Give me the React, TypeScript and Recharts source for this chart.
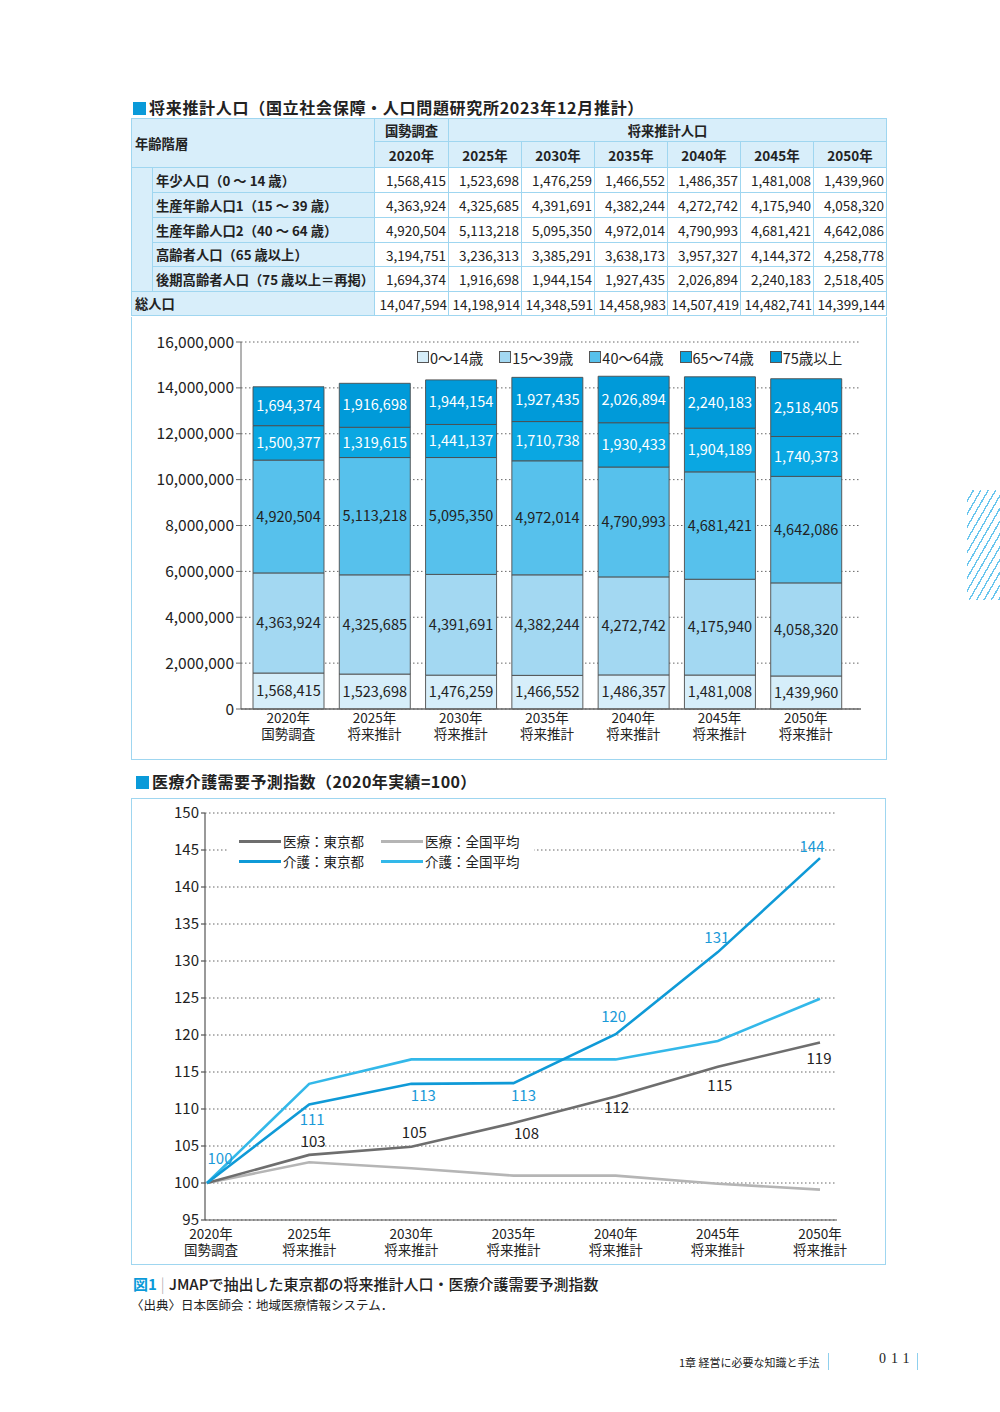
import React from "react";
import {
  BarChart,
  Bar,
  LineChart,
  Line,
  XAxis,
  YAxis,
  CartesianGrid,
  Legend,
  LabelList,
} from "recharts";

const FONT = '"Noto Sans CJK JP", "Noto Sans", sans-serif';

// 将来推計人口
const years = ["2020年", "2025年", "2030年", "2035年", "2040年", "2045年", "2050年"];
const yearNotes = ["国勢調査", "将来推計", "将来推計", "将来推計", "将来推計", "将来推計", "将来推計"];
const age0to14 = [1568415, 1523698, 1476259, 1466552, 1486357, 1481008, 1439960];
const age15to39 = [4363924, 4325685, 4391691, 4382244, 4272742, 4175940, 4058320];
const age40to64 = [4920504, 5113218, 5095350, 4972014, 4790993, 4681421, 4642086];
const age65plus = [3194751, 3236313, 3385291, 3638173, 3957327, 4144372, 4258778];
const age65to74 = [1500377, 1319615, 1441137, 1710738, 1930433, 1904189, 1740373];
const age75plus = [1694374, 1916698, 1944154, 1927435, 2026894, 2240183, 2518405];
const totals = [14047594, 14198914, 14348591, 14458983, 14507419, 14482741, 14399144];

const tableRowLabels = [
  "年少人口（0 ～ 14 歳）",
  "生産年齢人口1（15 ～ 39 歳）",
  "生産年齢人口2（40 ～ 64 歳）",
  "高齢者人口（65 歳以上）",
  "後期高齢者人口（75 歳以上＝再掲）",
];
const tableRows = [age0to14, age15to39, age40to64, age65plus, age75plus];

const barTicks = [0, 2000000, 4000000, 6000000, 8000000, 10000000, 12000000, 14000000, 16000000];
const barLegendNames = ["0〜14歳", "15〜39歳", "40〜64歳", "65〜74歳", "75歳以上"];

// 医療介護需要予測指数
const medTokyo = [100, 103.8, 104.9, 108.1, 111.7, 115.7, 119.0];
const medNational = [100, 102.8, 102.0, 101.0, 101.0, 99.9, 99.1];
const careTokyo = [100, 110.6, 113.4, 113.5, 120.1, 131.2, 143.9];
const careNational = [100, 113.4, 116.7, 116.7, 116.7, 119.2, 124.9];
const medTokyoLabels = [null, "103", "105", "108", "112", "115", "119"];
const careTokyoLabels = ["100", "111", "113", "113", "120", "131", "144"];
const indexTicks = [95, 100, 105, 110, 115, 120, 125, 130, 135, 140, 145, 150];

// label placement (px from the point)
const careLabelOffsets = [[13, -26], [3, 14], [12, 11], [10, 11], [-2, -19], [-1, -16], [-8, -13]];
const medLabelOffsets = [[0, 0], [4, -14], [3, -15], [13, 9], [1, 10], [2, 18], [-1, 15]];

const BLUE = "#0a9ad9";
const segColors = ["#d6eefa", "#a3d8f2", "#57c1ec", "#0aa7e2", "#009ad9"];
const lineColors = { medTokyo: "#6e6e6e", medNational: "#b5b5b5", careTokyo: "#0f9ad7", careNational: "#33b8e9" };

const barData = years.map((year, i) => ({
  year,
  a: age0to14[i],
  b: age15to39[i],
  c: age40to64[i],
  d: age65to74[i],
  e: age75plus[i],
}));

const lineData = years.map((year, i) => ({
  year,
  medTokyo: medTokyo[i],
  medNational: medNational[i],
  careTokyo: careTokyo[i],
  careNational: careNational[i],
}));

const fmt = (v: any) => Number(v).toLocaleString("en-US");

const YearTick = (yOff: number, firstShift: number) => (props: any) => {
  const { x, y, payload } = props;
  const i = years.indexOf(payload.value);
  const sx = i === 0 ? firstShift : 0;
  return (
    <g transform={`translate(${x + sx},${y})`}>
      <text textAnchor="middle" fontSize={13.5} fill="#222" fontFamily={FONT}>
        <tspan x={0} dy={yOff}>{payload.value}</tspan>
        <tspan x={0} dy={16}>{yearNotes[i]}</tspan>
      </text>
    </g>
  );
};

const BarLegend = () => (
  <div
    style={{
      display: "flex",
      alignItems: "center",
      fontFamily: FONT,
      fontSize: 14.5,
      color: "#222",
      whiteSpace: "nowrap",
      height: 20,
    }}
  >
    {barLegendNames.map((n, i) => (
      <div key={n} style={{ display: "flex", alignItems: "center", marginRight: i < 4 ? 16 : 0 }}>
        <span
          style={{
            display: "inline-block",
            width: 10,
            height: 10,
            background: segColors[i],
            border: "1px solid #555",
            marginRight: 1,
          }}
        />
        <span>{n}</span>
      </div>
    ))}
  </div>
);

const lineLegendItems = [
  { name: "医療：東京都", color: lineColors.medTokyo },
  { name: "医療：全国平均", color: lineColors.medNational },
  { name: "介護：東京都", color: lineColors.careTokyo },
  { name: "介護：全国平均", color: lineColors.careNational },
];

const LineLegend = () => (
  <div
    style={{
      display: "grid",
      gridTemplateColumns: "142px 153px",
      rowGap: 2,
      background: "#fff",
      padding: "1px 0 1px 10px",
      width: 295,
      fontFamily: FONT,
      fontSize: 13.5,
      color: "#222",
      whiteSpace: "nowrap",
    }}
  >
    {lineLegendItems.map((it) => (
      <div key={it.name} style={{ display: "flex", alignItems: "center", height: 18 }}>
        <span style={{ display: "inline-block", width: 42, height: 3, background: it.color, marginRight: 2 }} />
        <span>{it.name}</span>
      </div>
    ))}
  </div>
);

const makeIndexLabel = (texts: (string | null)[], offsets: number[][], color: string) => (props: any) => {
  const { x, y, index } = props;
  const t = texts[index];
  if (t == null) return null;
  const [dx, dy] = offsets[index];
  return (
    <text
      x={x + dx}
      y={y + dy}
      textAnchor="middle"
      dominantBaseline="central"
      fill={color}
      fontSize={15}
      fontFamily={FONT}
    >
      {t}
    </text>
  );
};

const thBase: React.CSSProperties = {
  background: "#d8eefa",
  border: "1px solid #9fd6f0",
  fontWeight: 700,
  padding: 0,
};
const tdNum: React.CSSProperties = {
  background: "#fff",
  border: "1px solid #9fd6f0",
  textAlign: "right",
  padding: "0 2px 0 0",
  fontSize: 13.5,
};

const PopulationTable = () => (
  <table
    style={{
      position: "absolute",
      left: 131,
      top: 118,
      width: 756,
      borderCollapse: "collapse",
      tableLayout: "fixed",
      fontFamily: FONT,
      fontSize: 13.3,
      color: "#222",
    }}
  >
    <colgroup>
      <col style={{ width: 21 }} />
      <col style={{ width: 222 }} />
      <col style={{ width: 74 }} />
      {years.slice(1).map((y) => (
        <col key={y} style={{ width: 73 }} />
      ))}
    </colgroup>
    <tbody>
      <tr style={{ height: 23 }}>
        <td colSpan={2} rowSpan={2} style={{ ...thBase, textAlign: "left", paddingLeft: 3 }}>
          年齢階層
        </td>
        <td style={{ ...thBase, textAlign: "center" }}>国勢調査</td>
        <td colSpan={6} style={{ ...thBase, textAlign: "center" }}>
          将来推計人口
        </td>
      </tr>
      <tr style={{ height: 26 }}>
        {years.map((y) => (
          <td key={y} style={{ ...thBase, textAlign: "center", fontSize: 13.5 }}>
            {y}
          </td>
        ))}
      </tr>
      {tableRows.map((row, r) => (
        <tr key={r} style={{ height: r === 3 ? 24 : 25 }}>
          {r === 0 && <td rowSpan={5} style={{ ...thBase }} />}
          <td style={{ ...thBase, textAlign: "left", paddingLeft: 3, whiteSpace: "nowrap" }}>{tableRowLabels[r]}</td>
          {row.map((v, i) => (
            <td key={i} style={tdNum}>
              {fmt(v)}
            </td>
          ))}
        </tr>
      ))}
      <tr style={{ height: 24 }}>
        <td colSpan={2} style={{ ...thBase, textAlign: "left", paddingLeft: 3 }}>
          総人口
        </td>
        {totals.map((v, i) => (
          <td key={i} style={{ ...tdNum, padding: "0 1px 0 0" }}>
            {fmt(v)}
          </td>
        ))}
      </tr>
    </tbody>
  </table>
);

const Square = () => (
  <span
    style={{ display: "inline-block", width: 13, height: 13, background: BLUE, marginRight: 3, verticalAlign: -1 }}
  />
);

const segKeys = ["a", "b", "c", "d", "e"];

export default function App() {
  return (
    <div
      style={{
        position: "absolute",
        left: 0,
        top: 0,
        width: 1000,
        height: 1412,
        background: "#fff",
        fontFamily: FONT,
        color: "#222",
        overflow: "hidden",
      }}
    >
      <div
        style={{
          position: "absolute",
          left: 133,
          top: 95,
          fontSize: 16,
          fontWeight: 700,
          letterSpacing: 0.7,
          whiteSpace: "nowrap",
        }}
      >
        <Square />
        将来推計人口（国立社会保障・人口問題研究所2023年12月推計）
      </div>

      <PopulationTable />

      <div
        style={{
          position: "absolute",
          left: 131,
          top: 317,
          width: 754,
          height: 442,
          borderLeft: "1px solid #9fd6f0",
          borderRight: "1px solid #9fd6f0",
          borderBottom: "1px solid #9fd6f0",
        }}
      >
        <BarChart width={755} height={443} data={barData} margin={{ top: 25, right: 26, left: 0, bottom: 0 }}>
          <CartesianGrid vertical={false} stroke="#666" strokeDasharray="1.5 2.5" />
          <XAxis
            dataKey="year"
            height={51}
            padding={{ left: 4, right: 12 }}
            tickSize={0}
            tickMargin={0}
            tick={YearTick(14, 0)}
            stroke="#666"
            strokeWidth={1.5}
            interval={0}
          />
          <YAxis
            width={109}
            domain={[0, 16000000]}
            ticks={barTicks}
            tickFormatter={fmt}
            tickSize={5}
            tickMargin={2}
            stroke="#666"
            tick={{ fontSize: 15.5, fill: "#222", fontFamily: FONT }}
            interval={0}
          />
          <Legend
            verticalAlign="top"
            content={BarLegend}
            wrapperStyle={{ top: 30, left: 285, width: 450, height: 0, overflow: "visible" }}
          />
          {segKeys.map((k, i) => (
            <Bar
              key={k}
              dataKey={k}
              stackId="pop"
              fill={segColors[i]}
              stroke="#4d4d4d"
              strokeWidth={0.9}
              barSize={71}
              isAnimationActive={false}
            >
              <LabelList
                dataKey={k}
                position="center"
                formatter={fmt}
                fill={i >= 3 ? "#fff" : "#222"}
                stroke="none"
                fontSize={14.5}
                fontFamily={FONT}
              />
            </Bar>
          ))}
        </BarChart>
      </div>

      <div
        style={{
          position: "absolute",
          left: 136,
          top: 769,
          fontSize: 16,
          fontWeight: 700,
          letterSpacing: 0.4,
          whiteSpace: "nowrap",
        }}
      >
        <Square />
        医療介護需要予測指数（2020年実績=100）
      </div>

      <div
        style={{
          position: "absolute",
          left: 131,
          top: 798,
          width: 753,
          height: 465,
          border: "1px solid #9fd6f0",
        }}
      >
        <LineChart width={755} height={466} data={lineData} margin={{ top: 14, right: 50, left: 0, bottom: 0 }}>
          <CartesianGrid vertical={false} stroke="#666" strokeDasharray="1.5 2.5" />
          <XAxis
            dataKey="year"
            height={45}
            padding={{ left: 2, right: 17 }}
            tickSize={0}
            tickMargin={0}
            tick={YearTick(19, 4)}
            stroke="#555"
            strokeWidth={1.2}
            interval={0}
          />
          <YAxis
            width={73}
            domain={[95, 150]}
            ticks={indexTicks}
            tickSize={4}
            tickMargin={2}
            stroke="#555"
            strokeWidth={1.2}
            tick={{ fontSize: 15, fill: "#222", fontFamily: FONT }}
            interval={0}
          />
          <Legend
            verticalAlign="top"
            content={LineLegend}
            wrapperStyle={{ top: 32, left: 97, width: 305, height: 0, overflow: "visible" }}
          />
          <Line
            type="linear"
            dataKey="medNational"
            stroke={lineColors.medNational}
            strokeWidth={2.6}
            dot={false}
            isAnimationActive={false}
          />
          <Line
            type="linear"
            dataKey="medTokyo"
            stroke={lineColors.medTokyo}
            strokeWidth={2.6}
            dot={false}
            isAnimationActive={false}
          >
            <LabelList dataKey="medTokyo" content={makeIndexLabel(medTokyoLabels, medLabelOffsets, "#222")} />
          </Line>
          <Line
            type="linear"
            dataKey="careNational"
            stroke={lineColors.careNational}
            strokeWidth={2.6}
            dot={false}
            isAnimationActive={false}
          />
          <Line
            type="linear"
            dataKey="careTokyo"
            stroke={lineColors.careTokyo}
            strokeWidth={2.6}
            dot={false}
            isAnimationActive={false}
          >
            <LabelList dataKey="careTokyo" content={makeIndexLabel(careTokyoLabels, careLabelOffsets, "#1a9ad8")} />
          </Line>
        </LineChart>
      </div>

      <div style={{ position: "absolute", left: 133, top: 1273, fontSize: 15, fontWeight: 500, whiteSpace: "nowrap" }}>
        <span style={{ color: BLUE, fontWeight: 700 }}>図1</span>
        <span style={{ color: "#aaa", margin: "0 4px", fontWeight: 300 }}>|</span>
        JMAPで抽出した東京都の将来推計人口・医療介護需要予測指数
      </div>
      <div style={{ position: "absolute", left: 131, top: 1295, fontSize: 12.5, whiteSpace: "nowrap" }}>
        〈出典〉日本医師会：地域医療情報システム．
      </div>

      <div style={{ position: "absolute", left: 679, top: 1354, fontSize: 11, whiteSpace: "nowrap" }}>
        1章 経営に必要な知識と手法
      </div>
      <div style={{ position: "absolute", left: 828, top: 1353, width: 1, height: 17, background: "#8fd0ee" }} />
      <div
        style={{
          position: "absolute",
          left: 879,
          top: 1351,
          fontSize: 14,
          letterSpacing: 5,
          fontFamily: '"Liberation Serif", serif',
        }}
      >
        011
      </div>
      <div style={{ position: "absolute", left: 917, top: 1353, width: 1, height: 17, background: "#8fd0ee" }} />

      <div
        style={{
          position: "absolute",
          left: 967,
          top: 490,
          width: 33,
          height: 110,
          background: "repeating-linear-gradient(120deg, transparent 0px, transparent 5px, #6ac6ee 5px, #6ac6ee 6.4px)",
        }}
      />
    </div>
  );
}
